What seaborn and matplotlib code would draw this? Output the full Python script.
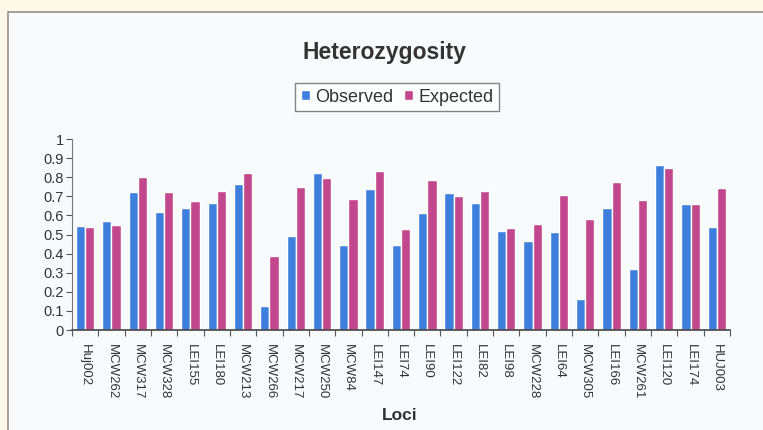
import matplotlib.pyplot as plt
import seaborn as sns
import pandas as pd
from matplotlib.patches import Rectangle

loci = ["Huj002", "MCW262", "MCW317", "MCW328", "LEI155", "LEI180", "MCW213",
        "MCW266", "MCW217", "MCW250", "MCW84", "LEI147", "LEI74", "LEI90",
        "LEI122", "LEI82", "LEI98", "MCW228", "LEI64", "MCW305", "LEI166",
        "MCW261", "LEI120", "LEI174", "HUJ003"]
observed = [0.542, 0.572, 0.720, 0.619, 0.640, 0.666, 0.766, 0.126, 0.493,
            0.820, 0.444, 0.740, 0.444, 0.615, 0.717, 0.664, 0.516, 0.467,
            0.514, 0.163, 0.638, 0.318, 0.864, 0.661, 0.538]
expected = [0.538, 0.549, 0.799, 0.720, 0.673, 0.727, 0.822, 0.388, 0.748,
            0.795, 0.685, 0.832, 0.530, 0.783, 0.699, 0.729, 0.533, 0.556,
            0.705, 0.580, 0.774, 0.682, 0.846, 0.661, 0.743]
series = ["Observed", "Expected"]
colors = ["#3e7fde", "#c3478d"]
yticks = [0, 0.1, 0.2, 0.3, 0.4, 0.5, 0.6, 0.7, 0.8, 0.9, 1]

df = pd.DataFrame({
    "Locus": loci * 2,
    "Value": observed + expected,
    "Series": [series[0]] * len(loci) + [series[1]] * len(loci),
})

sns.set_style("white")
plt.rcParams["font.family"] = ["Liberation Sans", "DejaVu Sans"]

fig = plt.figure(figsize=(7.63, 4.30), dpi=100)
fig.patch.set_facecolor("#fcf9e8")
# inner chart frame, behind the axes
frame = Rectangle((8 / 763, -0.05), 1.0, 1 - 12 / 430 + 0.05,
                  transform=fig.transFigure, facecolor="#f7fbfb",
                  edgecolor="#9a8f88", linewidth=1.2, zorder=-10)
fig.patches.append(frame)

ax = fig.add_axes([72 / 763, 1 - 330 / 430, (730 - 72) / 763, (330 - 139) / 430])
ax.set_facecolor("none")
sns.barplot(data=df, x="Locus", y="Value", hue="Series", palette=colors,
            width=0.7, gap=0, saturation=1, ax=ax, legend=True)

ax.set_ylim(0, 1)
ax.set_xlim(-0.5, len(loci) - 0.5)
ax.set_yticks(yticks)
ax.set_yticklabels([f"{t:g}" for t in yticks], fontsize=10.5, color="#333333")
ax.tick_params(axis="y", length=4, width=0.8, color="#555555", pad=2, left=True)
ax.set_xticks(range(len(loci)))
ax.set_xticklabels(loci, rotation=-90, fontsize=9.5, color="#333333")
ax.tick_params(axis="x", length=0, pad=10)
ax.set_xticks([i - 0.5 for i in range(len(loci) + 1)], minor=True)
ax.tick_params(axis="x", which="minor", length=4, width=0.8, color="#555555",
               bottom=True)
for s in ["top", "right"]:
    ax.spines[s].set_visible(False)
ax.spines["left"].set_color("#777777")
ax.spines["bottom"].set_color("#444444")
ax.spines["bottom"].set_linewidth(1.2)
ax.set_xlabel("")
ax.set_ylabel("")

leg = ax.legend(loc="center", bbox_to_anchor=(397 / 763, 1 - 97 / 430),
                bbox_transform=fig.transFigure, ncol=2, frameon=True,
                fancybox=False, fontsize=13, handlelength=0.5,
                handleheight=0.5, handletextpad=0.3, columnspacing=0.6,
                borderpad=0.3, borderaxespad=0)
leg.get_frame().set_edgecolor("#666666")
leg.get_frame().set_facecolor("white")
for t in leg.get_texts():
    t.set_color("#333333")

fig.text(385 / 763, 1 - 52 / 430, "Heterozygosity", ha="center", va="center",
         fontsize=16.5, fontweight="bold", color="#333333")
fig.text(400 / 763, 1 - 415 / 430, "Loci", ha="center", va="center",
         fontsize=12.5, fontweight="bold", color="#333333")

fig.savefig("out.png", dpi=100, facecolor=fig.get_facecolor())
